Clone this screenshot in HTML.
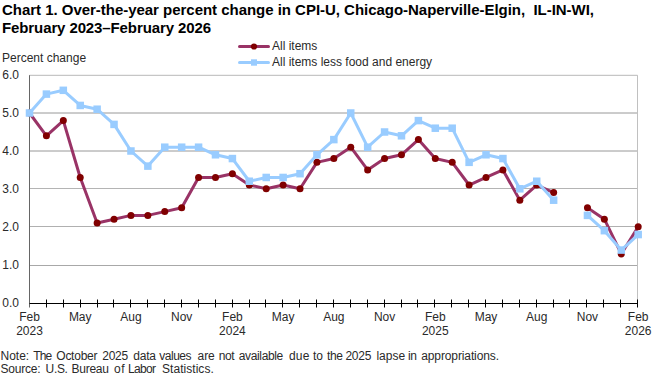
<!DOCTYPE html>
<html><head><meta charset="utf-8"><style>
html,body{margin:0;padding:0;background:#fff;width:661px;height:377px;overflow:hidden}
svg{display:block}
text{font-family:"Liberation Sans",sans-serif}
</style></head><body>
<svg width="661" height="377" viewBox="0 0 661 377">
<rect width="661" height="377" fill="#fff"/>
<g font-weight="bold" font-size="15" fill="#000">
<text x="2" y="15" textLength="592" lengthAdjust="spacing">Chart 1. Over-the-year percent change in CPI-U, Chicago-Naperville-Elgin,&#160; IL-IN-WI,</text>
<text x="2" y="32.5" textLength="209" lengthAdjust="spacing">February 2023–February 2026</text>
</g>
<g stroke="#c0c0c0" stroke-width="1"><line x1="29.5" y1="265.5" x2="637.5" y2="265.5" stroke="#a8a8a8"/><line x1="29.5" y1="226.5" x2="637.5" y2="226.5" stroke="#b0b0b0"/><line x1="29.5" y1="188.5" x2="637.5" y2="188.5" stroke="#b4b4b4"/><line x1="29.5" y1="151.0" x2="637.5" y2="151.0" stroke="#989898"/><line x1="29.5" y1="113.0" x2="637.5" y2="113.0" stroke="#989898"/><line x1="29.5" y1="75.3" x2="637.5" y2="75.3" stroke="#b8b8b8"/>
<line x1="637.5" y1="75.2" x2="637.5" y2="303.5"/></g>
<line x1="29.5" y1="75.2" x2="29.5" y2="307.5" stroke="#666" stroke-width="1"/>
<g stroke="#000" stroke-width="1">
<line x1="29.5" y1="303.5" x2="637.5" y2="303.5"/>
<line x1="46.5" y1="299.5" x2="46.5" y2="307.5"/><line x1="63.5" y1="299.5" x2="63.5" y2="307.5"/><line x1="80.5" y1="299.5" x2="80.5" y2="307.5"/><line x1="97.5" y1="299.5" x2="97.5" y2="307.5"/><line x1="113.5" y1="299.5" x2="113.5" y2="307.5"/><line x1="130.5" y1="299.5" x2="130.5" y2="307.5"/><line x1="147.5" y1="299.5" x2="147.5" y2="307.5"/><line x1="164.5" y1="299.5" x2="164.5" y2="307.5"/><line x1="181.5" y1="299.5" x2="181.5" y2="307.5"/><line x1="198.5" y1="299.5" x2="198.5" y2="307.5"/><line x1="215.5" y1="299.5" x2="215.5" y2="307.5"/><line x1="232.5" y1="299.5" x2="232.5" y2="307.5"/><line x1="249.5" y1="299.5" x2="249.5" y2="307.5"/><line x1="265.5" y1="299.5" x2="265.5" y2="307.5"/><line x1="282.5" y1="299.5" x2="282.5" y2="307.5"/><line x1="299.5" y1="299.5" x2="299.5" y2="307.5"/><line x1="316.5" y1="299.5" x2="316.5" y2="307.5"/><line x1="333.5" y1="299.5" x2="333.5" y2="307.5"/><line x1="350.5" y1="299.5" x2="350.5" y2="307.5"/><line x1="367.5" y1="299.5" x2="367.5" y2="307.5"/><line x1="384.5" y1="299.5" x2="384.5" y2="307.5"/><line x1="401.5" y1="299.5" x2="401.5" y2="307.5"/><line x1="417.5" y1="299.5" x2="417.5" y2="307.5"/><line x1="434.5" y1="299.5" x2="434.5" y2="307.5"/><line x1="451.5" y1="299.5" x2="451.5" y2="307.5"/><line x1="468.5" y1="299.5" x2="468.5" y2="307.5"/><line x1="485.5" y1="299.5" x2="485.5" y2="307.5"/><line x1="502.5" y1="299.5" x2="502.5" y2="307.5"/><line x1="519.5" y1="299.5" x2="519.5" y2="307.5"/><line x1="536.5" y1="299.5" x2="536.5" y2="307.5"/><line x1="553.5" y1="299.5" x2="553.5" y2="307.5"/><line x1="569.5" y1="299.5" x2="569.5" y2="307.5"/><line x1="586.5" y1="299.5" x2="586.5" y2="307.5"/><line x1="603.5" y1="299.5" x2="603.5" y2="307.5"/><line x1="620.5" y1="299.5" x2="620.5" y2="307.5"/><line x1="637.5" y1="299.5" x2="637.5" y2="307.5"/>
</g>
<g font-size="12" fill="#2a2a2a">
<text x="2" y="62">Percent change</text>
<g text-anchor="end"><text x="19" y="307.2">0.0</text><text x="19" y="269.3">1.0</text><text x="19" y="230.5">2.0</text><text x="19" y="192.5">3.0</text><text x="19" y="154.7">4.0</text><text x="19" y="116.7">5.0</text><text x="19" y="78.9">6.0</text></g>
<g text-anchor="middle"><text x="29.50" y="321.0">Feb</text><text x="29.50" y="335.0">2023</text><text x="80.22" y="321.0">May</text><text x="130.95" y="321.0">Aug</text><text x="181.67" y="321.0">Nov</text><text x="232.40" y="321.0">Feb</text><text x="232.40" y="335.0">2024</text><text x="283.12" y="321.0">May</text><text x="333.84" y="321.0">Aug</text><text x="384.57" y="321.0">Nov</text><text x="435.29" y="321.0">Feb</text><text x="435.29" y="335.0">2025</text><text x="486.02" y="321.0">May</text><text x="536.74" y="321.0">Aug</text><text x="587.46" y="321.0">Nov</text><text x="638.19" y="321.0">Feb</text><text x="638.19" y="335.0">2026</text></g>
</g>
<g fill="none" stroke="#993366" stroke-width="3" stroke-linejoin="round"><polyline points="29.50,113.00 46.41,135.80 63.32,120.60 80.22,177.46 97.13,223.00 114.04,219.20 130.95,215.40 147.86,215.40 164.76,211.60 181.67,207.80 198.58,177.46 215.49,177.46 232.40,173.68 249.30,185.02 266.21,188.80 283.12,185.02 300.03,188.80 316.94,162.34 333.84,158.56 350.75,147.20 367.66,169.90 384.57,158.56 401.48,154.78 418.38,139.60 435.29,158.56 452.20,162.34 469.11,185.02 486.02,177.46 502.92,169.90 519.83,200.20 536.74,185.02 553.65,192.60"/><polyline points="587.46,207.80 604.37,219.20 621.28,253.96 638.19,226.80"/></g>
<g fill="#800000"><circle cx="29.50" cy="113.00" r="3.5"/><circle cx="46.41" cy="135.80" r="3.5"/><circle cx="63.32" cy="120.60" r="3.5"/><circle cx="80.22" cy="177.46" r="3.5"/><circle cx="97.13" cy="223.00" r="3.5"/><circle cx="114.04" cy="219.20" r="3.5"/><circle cx="130.95" cy="215.40" r="3.5"/><circle cx="147.86" cy="215.40" r="3.5"/><circle cx="164.76" cy="211.60" r="3.5"/><circle cx="181.67" cy="207.80" r="3.5"/><circle cx="198.58" cy="177.46" r="3.5"/><circle cx="215.49" cy="177.46" r="3.5"/><circle cx="232.40" cy="173.68" r="3.5"/><circle cx="249.30" cy="185.02" r="3.5"/><circle cx="266.21" cy="188.80" r="3.5"/><circle cx="283.12" cy="185.02" r="3.5"/><circle cx="300.03" cy="188.80" r="3.5"/><circle cx="316.94" cy="162.34" r="3.5"/><circle cx="333.84" cy="158.56" r="3.5"/><circle cx="350.75" cy="147.20" r="3.5"/><circle cx="367.66" cy="169.90" r="3.5"/><circle cx="384.57" cy="158.56" r="3.5"/><circle cx="401.48" cy="154.78" r="3.5"/><circle cx="418.38" cy="139.60" r="3.5"/><circle cx="435.29" cy="158.56" r="3.5"/><circle cx="452.20" cy="162.34" r="3.5"/><circle cx="469.11" cy="185.02" r="3.5"/><circle cx="486.02" cy="177.46" r="3.5"/><circle cx="502.92" cy="169.90" r="3.5"/><circle cx="519.83" cy="200.20" r="3.5"/><circle cx="536.74" cy="185.02" r="3.5"/><circle cx="553.65" cy="192.60" r="3.5"/><circle cx="587.46" cy="207.80" r="3.5"/><circle cx="604.37" cy="219.20" r="3.5"/><circle cx="621.28" cy="253.96" r="3.5"/><circle cx="638.19" cy="226.80" r="3.5"/></g>
<g fill="none" stroke="#99ccff" stroke-width="3" stroke-linejoin="round"><polyline points="29.50,113.00 46.41,94.10 63.32,90.32 80.22,105.44 97.13,109.22 114.04,124.40 130.95,151.00 147.86,166.12 164.76,147.20 181.67,147.20 198.58,147.20 215.49,154.78 232.40,158.56 249.30,181.24 266.21,177.46 283.12,177.46 300.03,173.68 316.94,154.78 333.84,139.60 350.75,113.00 367.66,147.20 384.57,132.00 401.48,135.80 418.38,120.60 435.29,128.20 452.20,128.20 469.11,162.34 486.02,154.78 502.92,158.56 519.83,188.80 536.74,181.24 553.65,200.20"/><polyline points="587.46,215.40 604.37,230.68 621.28,250.08 638.19,234.56"/></g>
<g fill="#99ccff"><rect x="25.75" y="109.25" width="7.5" height="7.5"/><rect x="42.66" y="90.35" width="7.5" height="7.5"/><rect x="59.57" y="86.57" width="7.5" height="7.5"/><rect x="76.47" y="101.69" width="7.5" height="7.5"/><rect x="93.38" y="105.47" width="7.5" height="7.5"/><rect x="110.29" y="120.65" width="7.5" height="7.5"/><rect x="127.20" y="147.25" width="7.5" height="7.5"/><rect x="144.11" y="162.37" width="7.5" height="7.5"/><rect x="161.01" y="143.45" width="7.5" height="7.5"/><rect x="177.92" y="143.45" width="7.5" height="7.5"/><rect x="194.83" y="143.45" width="7.5" height="7.5"/><rect x="211.74" y="151.03" width="7.5" height="7.5"/><rect x="228.65" y="154.81" width="7.5" height="7.5"/><rect x="245.55" y="177.49" width="7.5" height="7.5"/><rect x="262.46" y="173.71" width="7.5" height="7.5"/><rect x="279.37" y="173.71" width="7.5" height="7.5"/><rect x="296.28" y="169.93" width="7.5" height="7.5"/><rect x="313.19" y="151.03" width="7.5" height="7.5"/><rect x="330.09" y="135.85" width="7.5" height="7.5"/><rect x="347.00" y="109.25" width="7.5" height="7.5"/><rect x="363.91" y="143.45" width="7.5" height="7.5"/><rect x="380.82" y="128.25" width="7.5" height="7.5"/><rect x="397.73" y="132.05" width="7.5" height="7.5"/><rect x="414.63" y="116.85" width="7.5" height="7.5"/><rect x="431.54" y="124.45" width="7.5" height="7.5"/><rect x="448.45" y="124.45" width="7.5" height="7.5"/><rect x="465.36" y="158.59" width="7.5" height="7.5"/><rect x="482.27" y="151.03" width="7.5" height="7.5"/><rect x="499.17" y="154.81" width="7.5" height="7.5"/><rect x="516.08" y="185.05" width="7.5" height="7.5"/><rect x="532.99" y="177.49" width="7.5" height="7.5"/><rect x="549.90" y="196.45" width="7.5" height="7.5"/><rect x="583.71" y="211.65" width="7.5" height="7.5"/><rect x="600.62" y="226.93" width="7.5" height="7.5"/><rect x="617.53" y="246.33" width="7.5" height="7.5"/><rect x="634.44" y="230.81" width="7.5" height="7.5"/></g>
<line x1="239.5" y1="46.5" x2="268.5" y2="46.5" stroke="#993366" stroke-width="3" stroke-linecap="round"/>
<circle cx="254" cy="46.5" r="3.1" fill="#800000"/>
<line x1="239.5" y1="62.5" x2="268.5" y2="62.5" stroke="#99ccff" stroke-width="3" stroke-linecap="round"/>
<rect x="251" y="59.3" width="6" height="6.4" fill="#99ccff"/>
<g font-size="12" fill="#2a2a2a">
<text x="272" y="50.3">All items</text>
<text x="272" y="65.7">All items less food and energy</text>
<text x="0.50" y="360" textLength="28.69" lengthAdjust="spacing">Note:</text><text x="33.30" y="360" textLength="18.89" lengthAdjust="spacing">The</text><text x="56.30" y="360" textLength="41.19" lengthAdjust="spacing">October</text><text x="102.30" y="360" textLength="25.90" lengthAdjust="spacing">2025</text><text x="133.30" y="360" textLength="22.76" lengthAdjust="spacing">data</text><text x="159.30" y="360" textLength="32.19" lengthAdjust="spacing">values</text><text x="197.60" y="360" textLength="17.14" lengthAdjust="spacing">are</text><text x="218.80" y="360" textLength="15.89" lengthAdjust="spacing">not</text><text x="238.80" y="360" textLength="44.47" lengthAdjust="spacing">available</text><text x="289.10" y="360" textLength="20.23" lengthAdjust="spacing">due</text><text x="313.10" y="360" textLength="9.72" lengthAdjust="spacing">to</text><text x="327.00" y="360" textLength="15.89" lengthAdjust="spacing">the</text><text x="345.40" y="360" textLength="26.00" lengthAdjust="spacing">2025</text><text x="376.40" y="360" textLength="28.89" lengthAdjust="spacing">lapse</text><text x="407.90" y="360" textLength="9.14" lengthAdjust="spacing">in</text><text x="421.20" y="360" textLength="77.79" lengthAdjust="spacing">appropriations.</text><text x="0.50" y="372.5" textLength="40.16" lengthAdjust="spacing">Source:</text><text x="45.60" y="372.5" textLength="22.34" lengthAdjust="spacing">U.S.</text><text x="71.60" y="372.5" textLength="37.30" lengthAdjust="spacing">Bureau</text><text x="114.00" y="372.5" textLength="10.52" lengthAdjust="spacing">of</text><text x="128.10" y="372.5" textLength="27.90" lengthAdjust="spacing">Labor</text><text x="162.00" y="372.5" textLength="51.76" lengthAdjust="spacing">Statistics.</text>
</g>
</svg>
</body></html>
